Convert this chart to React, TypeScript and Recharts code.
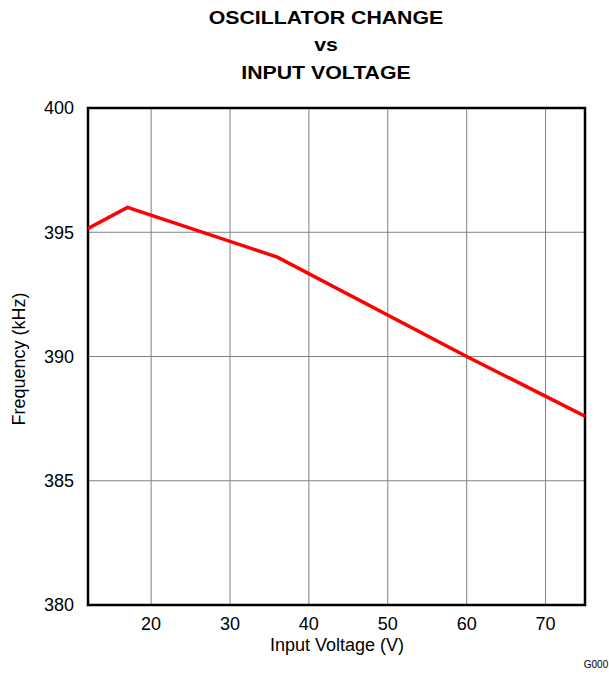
import React from 'react';
import { LineChart, Line, XAxis, YAxis, CartesianGrid, ReferenceArea } from 'recharts';

const voltage = [12, 17, 36, 60, 75];
const frequency = [395.15, 396, 394, 390, 387.6];
const xTicks = [20, 30, 40, 50, 60, 70];
const yTicks = [380, 385, 390, 395, 400];
const titleLines = ['OSCILLATOR CHANGE', 'vs', 'INPUT VOLTAGE'];

const data = voltage.map((v, i) => ({ v, f: frequency[i] }));

const FONT = '"Liberation Sans", Arial, Helvetica, sans-serif';

export default function App() {
  const titleY = [18, 45, 73];
  return (
    <div style={{ position: 'absolute', left: 0, top: 0, width: 609, height: 675, background: '#fff', fontFamily: FONT }}>
      {titleLines.map((t, i) => (
        <div
          key={t}
          style={{
            position: 'absolute',
            left: 326,
            top: titleY[i],
            transform: 'translate(-50%, -50%) scaleX(1.12)',
            fontWeight: 'bold',
            fontSize: 19,
            whiteSpace: 'nowrap',
            color: '#000',
          }}
        >
          {t}
        </div>
      ))}
      <LineChart
        width={609}
        height={675}
        data={data}
        margin={{ top: 108, right: 24, bottom: 30, left: 28 }}
      >
        <CartesianGrid stroke="#808080" strokeWidth={1} />
        <XAxis
          dataKey="v"
          type="number"
          domain={[12, 75]}
          ticks={xTicks}
          allowDataOverflow
          axisLine={false}
          tickLine={false}
          height={40}
          tickMargin={6}
          tick={{ fill: '#000', fontSize: 18, fontFamily: FONT }}
        />
        <YAxis
          type="number"
          domain={[380, 400]}
          ticks={yTicks}
          allowDataOverflow
          axisLine={false}
          tickLine={false}
          width={60}
          tickMargin={8}
          tick={{ fill: '#000', fontSize: 18, fontFamily: FONT }}
        />
        <Line
          type="linear"
          dataKey="f"
          stroke="#ff0000"
          strokeWidth={3.5}
          dot={false}
          isAnimationActive={false}
        />
        <ReferenceArea
          x1={12}
          x2={75}
          y1={380}
          y2={400}
          fill="none"
          fillOpacity={0}
          stroke="#000"
          strokeWidth={2.5}
          ifOverflow="visible"
        />
      </LineChart>
      <div
        style={{
          position: 'absolute',
          left: 19,
          top: 359,
          transform: 'translate(-50%, -50%) rotate(-90deg)',
          fontSize: 18,
          whiteSpace: 'nowrap',
          color: '#000',
        }}
      >
        Frequency (kHz)
      </div>
      <div
        style={{
          position: 'absolute',
          left: 337,
          top: 645,
          transform: 'translate(-50%, -50%)',
          fontSize: 18,
          whiteSpace: 'nowrap',
          color: '#000',
        }}
      >
        Input Voltage (V)
      </div>
      <div
        style={{
          position: 'absolute',
          left: 596,
          top: 664,
          transform: 'translate(-50%, -50%)',
          fontSize: 10,
          whiteSpace: 'nowrap',
          color: '#000',
        }}
      >
        G000
      </div>
    </div>
  );
}
